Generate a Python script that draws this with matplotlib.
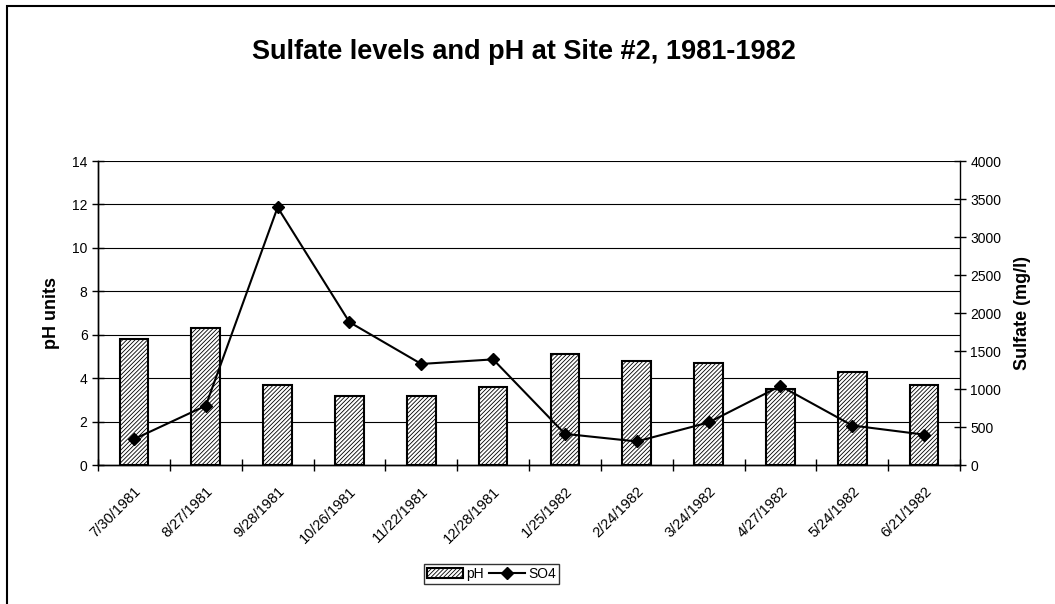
import matplotlib
matplotlib.use('Agg')
import matplotlib.pyplot as plt
import numpy as np
from matplotlib.patches import Rectangle

plt.rcParams['font.family'] = ['Liberation Sans', 'DejaVu Sans']
plt.rcParams['hatch.linewidth'] = 0.6

# data
dates = ['7/30/1981', '8/27/1981', '9/28/1981', '10/26/1981', '11/22/1981',
         '12/28/1981', '1/25/1982', '2/24/1982', '3/24/1982', '4/27/1982',
         '5/24/1982', '6/21/1982']
ph = [5.8, 6.3, 3.7, 3.2, 3.2, 3.6, 5.1, 4.8, 4.7, 3.5, 4.3, 3.7]
so4 = [340, 780, 3390, 1880, 1330, 1390, 410, 310, 560, 1040, 520, 400]

fig = plt.figure(figsize=(10.55, 6.04), dpi=100)
ax = fig.add_axes([0.0929, 0.2301, 0.8171, 0.5033])
ax2 = ax.twinx()

x = np.arange(len(dates))
bars = ax.bar(x, ph, width=0.4, color='white', edgecolor='black',
              hatch='////////', linewidth=1.5, zorder=3, label='pH')
line, = ax2.plot(x, so4, color='black', marker='D', markersize=6,
                 linewidth=1.5, label='SO4', zorder=4)

ax.set_xlim(-0.5, len(dates) - 0.5)
ax.set_ylim(0, 14)
ax.set_yticks(np.arange(0, 15, 2))
ax2.set_ylim(0, 4000)
ax2.set_yticks(np.arange(0, 4001, 500))

# gridlines at pH ticks
for yv in np.arange(2, 15, 2):
    ax.axhline(yv, color='black', linewidth=0.8, zorder=1)

ax.set_xticks(x)
ax.set_xticklabels(dates, rotation=45, ha='right', rotation_mode='anchor', fontsize=10.5)
ax.tick_params(axis='x', which='major', length=0, pad=14)
ax.set_xticks(np.arange(-0.5, len(dates) - 0.4, 1), minor=True)
ax.tick_params(axis='x', which='minor', length=8, direction='inout', width=1)
ax.tick_params(axis='y', length=8, direction='inout', labelsize=10, width=1)
ax2.tick_params(axis='y', length=8, direction='inout', labelsize=10, width=1)

for a in (ax, ax2):
    a.spines['top'].set_visible(False)
    for s in ('left', 'right', 'bottom'):
        a.spines[s].set_linewidth(1)
ax.spines['right'].set_visible(False)

ax.set_ylabel('pH units', fontsize=13, fontweight='bold')
ax2.set_ylabel('Sulfate (mg/l)', fontsize=13, fontweight='bold')
ax.yaxis.set_label_coords(-0.044, 0.5)
ax2.yaxis.set_label_coords(1.063, 0.5)

fig.text(0.497, 1 - 52 / 604, 'Sulfate levels and pH at Site #2, 1981-1982',
         fontsize=19.5, fontweight='bold', ha='center', va='center')

fig.legend([bars, line], ['pH', 'SO4'], loc='center', ncol=2,
           bbox_to_anchor=(0.466, 1 - 574 / 604), fontsize=10, frameon=True,
           fancybox=False, edgecolor='black', handlelength=2.6,
           handletextpad=0.2, columnspacing=0.4, borderpad=0.25,
           borderaxespad=0.2)

# outer chart frame
fig.patches.append(Rectangle((7 / 1055, -0.05), 1.2, 1 - 6 / 604 + 0.05,
                             transform=fig.transFigure, fill=False,
                             edgecolor='black', linewidth=1.5))

fig.savefig('out.png', dpi=100)
